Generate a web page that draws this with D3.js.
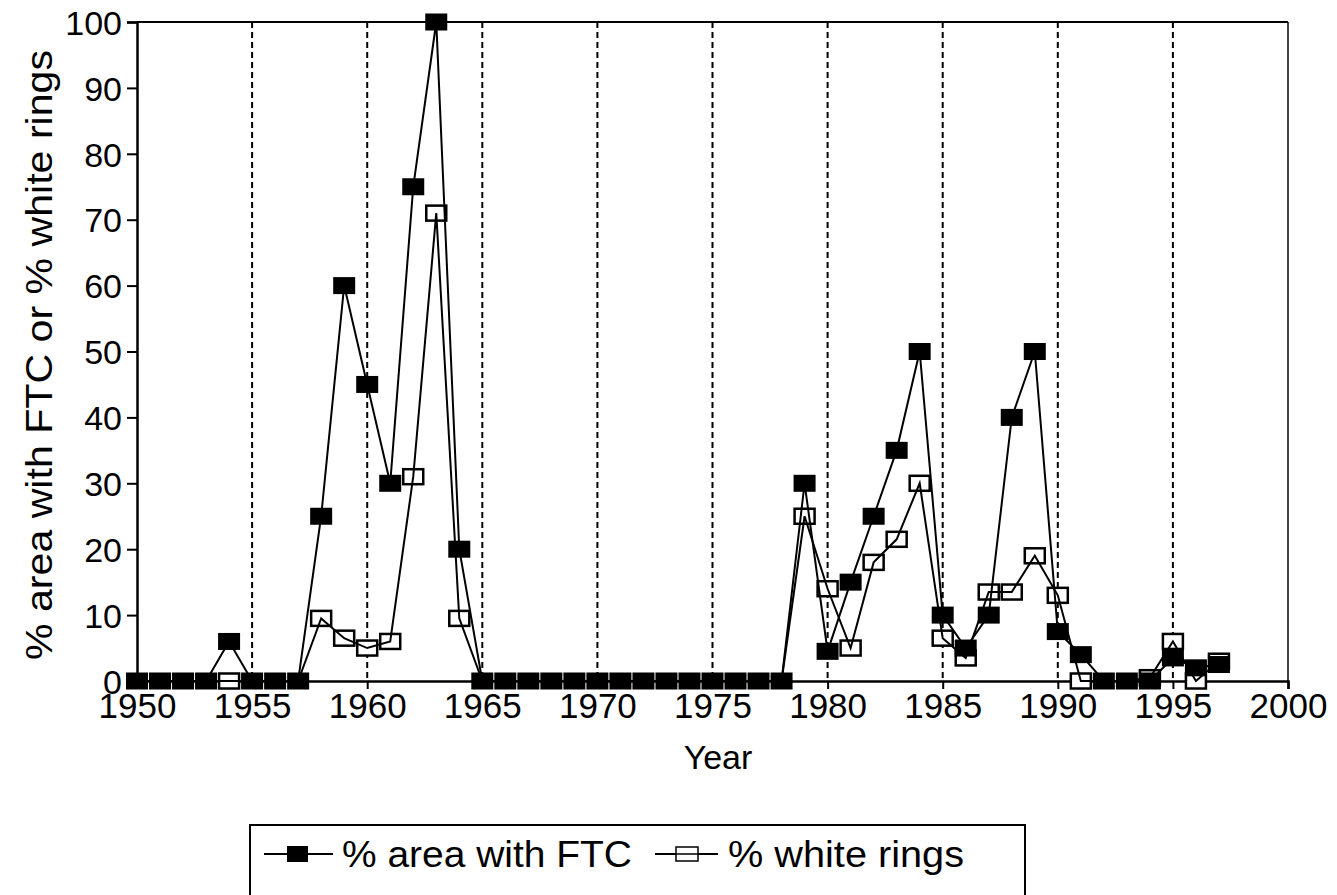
<!DOCTYPE html>
<head>
  <meta charset="utf-8">
  <script src="https://d3js.org/d3.v7.min.js"></script>
  <style>
    body { margin:0; padding:0; background:#fff; }
    text { font-family: "Liberation Sans", Arial, sans-serif; fill:#000; }
  </style>
</head>
<body>
  <svg id="chart" width="1337" height="895"></svg>
  <script>
    var years = d3.range(1950, 1998);
    var ftc = [0,0,0,0,6,0,0,0,25,60,
               45,30,75,100,20,0,0,0,0,0,
               0,0,0,0,0,0,0,0,0,30,
               4.5,15,25,35,50,10,5,10,40,50,
               7.5,4,0,0,0,3.5,2,2.5];
    var whiteRings = [0,0,0,0,0,0,0,0,9.5,6.5,
               5,6,31,71,9.5,0,0,0,0,0,
               0,0,0,0,0,0,0,0,0,25,
               14,5,18,21.5,30,6.5,3.5,13.5,13.5,19,
               13,0,0,0,0.5,6,0,3];
    var yTicks = [0,10,20,30,40,50,60,70,80,90,100];
    var xTicks = [1950,1955,1960,1965,1970,1975,1980,1985,1990,1995,2000];
    var gridYears = [1955,1960,1965,1970,1975,1980,1985,1990,1995];
    var legendLabels = ["% area with FTC", "% white rings"];

    var svg = d3.select("#chart");
    var pLeft = 137, pRight = 1288, pTop = 22, pBottom = 681;

    var x = d3.scaleLinear().domain([1950, 2000]).range([pLeft, pRight]);
    var y = d3.scaleLinear().domain([0, 100]).range([pBottom, pTop]);

    // dashed year grid
    svg.selectAll("line.grid").data(gridYears).enter().append("line")
      .attr("x1", d => x(d)).attr("x2", d => x(d))
      .attr("y1", pTop).attr("y2", pBottom)
      .attr("stroke", "#000").attr("stroke-width", 2)
      .attr("stroke-dasharray", "6,4");

    // frame
    svg.append("line").attr("x1", pLeft).attr("x2", pRight).attr("y1", pTop).attr("y2", pTop)
      .attr("stroke", "#000").attr("stroke-width", 2);
    svg.append("line").attr("x1", pRight).attr("x2", pRight).attr("y1", pTop).attr("y2", pBottom)
      .attr("stroke", "#000").attr("stroke-width", 1.5);

    var xAxis = svg.append("g").attr("transform", "translate(0," + pBottom + ")")
      .call(d3.axisBottom(x).tickValues(xTicks).tickFormat(d3.format("d")).tickSize(8).tickPadding(4));
    var yAxis = svg.append("g").attr("transform", "translate(" + pLeft + ",0)")
      .call(d3.axisLeft(y).tickValues(yTicks).tickSize(10).tickPadding(5));
    [xAxis, yAxis].forEach(function(g) {
      g.select(".domain").attr("stroke", "#000").attr("stroke-width", 2.5);
      g.selectAll(".tick line").attr("stroke", "#000").attr("stroke-width", 2);
      g.selectAll(".tick text").style("font-family", "'Liberation Sans', Arial, sans-serif");
    });
    yAxis.selectAll(".tick text").style("font-size", "34px").attr("dy", "0.36em");
    xAxis.selectAll(".tick text").style("font-size", "35px").attr("dy", "0.72em");

    svg.append("text").attr("x", 718).attr("y", 769)
      .attr("text-anchor", "middle").style("font-size", "34px").text("Year");
    svg.append("text").attr("transform", "translate(52,355) rotate(-90)")
      .attr("text-anchor", "middle").style("font-size", "37px")
      .attr("textLength", 610).attr("lengthAdjust", "spacingAndGlyphs")
      .text("% area with FTC or % white rings");

    var line = d3.line().x(d => x(d[0])).y(d => y(d[1]));
    var ftcPts = years.map((yr, i) => [yr, ftc[i]]);
    var wrPts = years.map((yr, i) => [yr, whiteRings[i]]);

    var mw = 22, mh = 17;
    svg.selectAll("rect.wr").data(wrPts.filter(d => d[1] > 0 || d[0] === 1954 || d[0] === 1991 || d[0] === 1996))
      .enter().append("rect")
      .attr("x", d => x(d[0]) - mw / 2 + 1).attr("y", d => y(d[1]) - mh / 2 + 1)
      .attr("width", mw - 2).attr("height", mh - 2)
      .attr("fill", "#fff").attr("stroke", "#000").attr("stroke-width", 2.5);
    svg.selectAll("rect.ftc").data(ftcPts).enter().append("rect")
      .attr("x", d => x(d[0]) - mw / 2).attr("y", d => y(d[1]) - mh / 2)
      .attr("width", mw).attr("height", mh).attr("fill", "#000");
    svg.append("path").datum(wrPts).attr("d", line)
      .attr("fill", "none").attr("stroke", "#000").attr("stroke-width", 2);
    svg.append("path").datum(ftcPts).attr("d", line)
      .attr("fill", "none").attr("stroke", "#000").attr("stroke-width", 2);

    // legend
    var lg = svg.append("g");
    lg.append("rect").attr("x", 250).attr("y", 825).attr("width", 775).attr("height", 100)
      .attr("fill", "none").attr("stroke", "#000").attr("stroke-width", 2);
    var ly = 854;
    lg.append("line").attr("x1", 264).attr("x2", 333).attr("y1", ly).attr("y2", ly)
      .attr("stroke", "#000").attr("stroke-width", 2);
    lg.append("rect").attr("x", 287).attr("y", ly - 8).attr("width", 21).attr("height", 16).attr("fill", "#000");
    lg.append("text").attr("x", 342).attr("y", ly + 13).style("font-size", "37px")
      .attr("textLength", 290).attr("lengthAdjust", "spacingAndGlyphs").text(legendLabels[0]);
    lg.append("line").attr("x1", 655).attr("x2", 718).attr("y1", ly).attr("y2", ly)
      .attr("stroke", "#000").attr("stroke-width", 2);
    lg.append("rect").attr("x", 676).attr("y", ly - 7).attr("width", 22).attr("height", 14)
      .attr("fill", "#fff").attr("stroke", "#000").attr("stroke-width", 1.5);
    lg.append("line").attr("x1", 676).attr("x2", 698).attr("y1", ly).attr("y2", ly)
      .attr("stroke", "#000").attr("stroke-width", 1.5);
    lg.append("text").attr("x", 728).attr("y", ly + 13).style("font-size", "37px")
      .attr("textLength", 236).attr("lengthAdjust", "spacingAndGlyphs").text(legendLabels[1]);
  </script>
</body>
